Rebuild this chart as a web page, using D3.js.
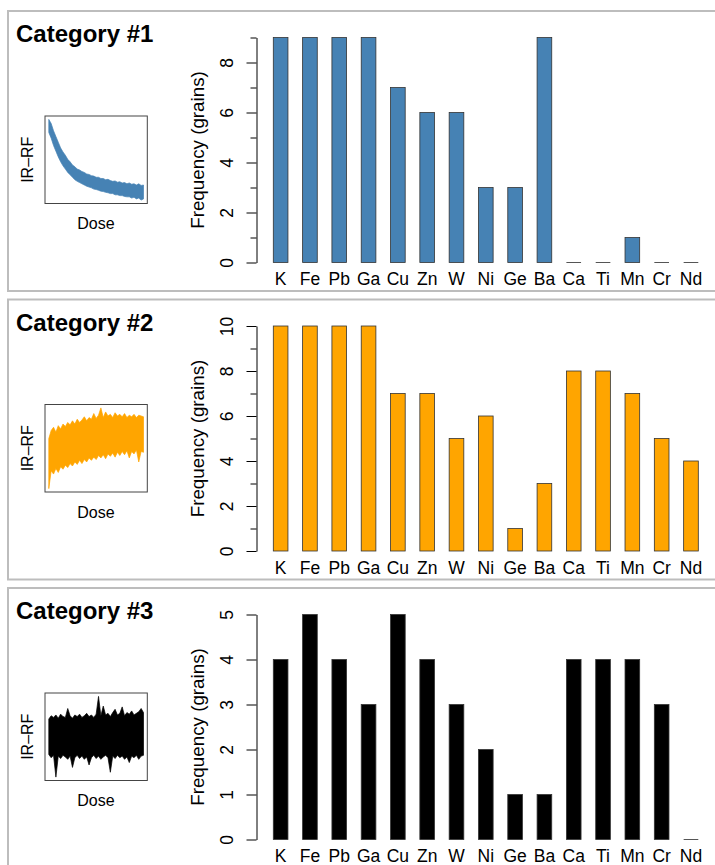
<!DOCTYPE html>
<html>
<head>
<meta charset="utf-8">
<script src="https://cdn.jsdelivr.net/npm/d3@7"></script>
<style>
  body { margin: 0; background: #fff; }
  text { font-family: "Liberation Sans", Arial, Helvetica, sans-serif; }
</style>
</head>
<body>
<div id="chart"></div>
<script>
// elements on the x axis, same order in every panel
var elements = ["K", "Fe", "Pb", "Ga", "Cu", "Zn", "W", "Ni", "Ge", "Ba", "Ca", "Ti", "Mn", "Cr", "Nd"];

// frequency (grains) per element for each category
var freq1 = [9, 9, 9, 9, 7, 6, 6, 3, 3, 9, 0, 0, 1, 0, 0];
var freq2 = [10, 10, 10, 10, 7, 7, 5, 6, 1, 3, 8, 8, 7, 5, 4];
var freq3 = [4, 5, 4, 3, 5, 4, 3, 2, 1, 1, 4, 4, 4, 3, 0];

var titles = ["Category #1", "Category #2", "Category #3"];
var colors = ["steelblue", "orange", "black"];

// IR-RF signal of the small insets, read off the picture as upper / lower
// edge of the noisy trace, 41 steps across the dose axis (arbitrary units)
var rf1Upper = [100, 95, 86, 79, 72, 65, 60, 56, 51, 48, 44, 42, 39, 38, 36, 35, 33, 32.5, 31, 30.5, 29, 29, 27.5, 27.5, 26, 26.5, 25, 24, 24.5, 23, 23.5, 22, 22.5, 21, 22, 20.5, 21, 19.5, 21, 19, 19.5];
var rf1Lower = [84, 77, 68, 61, 54, 48, 43, 39, 35, 32, 29, 26, 24, 22.5, 21, 19.5, 18, 17, 16, 14.5, 14, 13, 12, 11.5, 10.5, 10, 9, 9, 7.5, 7.5, 6.5, 6.5, 5.5, 5, 5, 3.5, 4.5, 2.5, 3.5, 1, 2.5];

var rf2Upper = [62, 72, 76, 70, 78, 74, 80, 77, 82, 79, 84, 80, 86, 82, 85, 89, 84, 88, 86, 93, 87, 91, 100, 88, 95, 90, 92, 88, 94, 90, 92, 89, 93, 88, 91, 89, 92, 88, 91, 90, 89];
var rf2Lower = [0, 22, 18, 25, 20, 27, 24, 29, 26, 31, 28, 33, 30, 35, 31, 36, 33, 38, 35, 39, 36, 41, 38, 42, 37, 43, 40, 44, 39, 45, 41, 46, 42, 47, 38, 46, 43, 48, 33, 46, 45];

var rf3Upper = [72, 76, 74, 77, 73, 78, 75, 74, 85, 76, 73, 77, 75, 78, 74, 76, 79, 75, 77, 74, 78, 100, 76, 88, 77, 79, 75, 80, 84, 77, 79, 87, 76, 80, 78, 82, 77, 79, 81, 85, 80];
var rf3Lower = [28, 24, 27, 0, 26, 23, 27, 25, 22, 26, 12, 24, 27, 23, 26, 22, 25, 15, 24, 27, 23, 26, 22, 25, 27, 24, 6, 26, 23, 27, 24, 26, 22, 25, 18, 26, 24, 27, 22, 26, 27];

var panels = [
  {title: titles[0], freq: freq1, color: colors[0], upper: rf1Upper, lower: rf1Lower},
  {title: titles[1], freq: freq2, color: colors[1], upper: rf2Upper, lower: rf2Lower},
  {title: titles[2], freq: freq3, color: colors[2], upper: rf3Upper, lower: rf3Lower}
];

var svg = d3.select("#chart").append("svg")
  .attr("width", 715)
  .attr("height", 865);

// element position on the bar charts (identical for all panels)
var xScale = d3.scaleBand()
  .domain(elements)
  .range([273.3, 698.3])
  .paddingInner(0.5)
  .paddingOuter(0);

// dose axis of the insets
var doseScale = d3.scaleLinear()
  .domain([0, 40])
  .range([45 + 3.8, 147.3 - 3.8]);

for (var p = 0; p < panels.length; p++) {
  var panel = panels[p];
  var panelTop = 11 + p * 288.5;

  // grey frame round each panel
  svg.append("rect")
    .attr("x", 8)
    .attr("y", panelTop)
    .attr("width", 720)
    .attr("height", 280)
    .style("fill", "none")
    .style("stroke", "#bdbdbd")
    .style("stroke-width", 2);

  svg.append("text")
    .attr("x", 16)
    .attr("y", panelTop + 31)
    .style("font-size", "24px")
    .style("font-weight", "bold")
    .text(panel.title);

  // ---- inset with the IR-RF curve ----
  var boxTop = panelTop + 105, boxBottom = panelTop + 192.5;
  var rfScale = d3.scaleLinear()
    .domain([d3.min(panel.lower), d3.max(panel.upper)])
    .range([boxBottom - 3.4, boxTop + 3.4]);

  var band = d3.area()
    .x(function(d, i) { return doseScale(i); })
    .y0(function(d, i) { return rfScale(panel.lower[i]); })
    .y1(function(d) { return rfScale(d); });

  svg.append("path")
    .datum(panel.upper)
    .attr("d", band)
    .style("fill", panel.color)
    .style("stroke", panel.color)
    .style("stroke-width", 0.7);

  svg.append("rect")
    .attr("x", 45)
    .attr("y", boxTop)
    .attr("width", 102.3)
    .attr("height", boxBottom - boxTop)
    .style("fill", "none")
    .style("stroke", "#444")
    .style("stroke-width", 1);

  svg.append("text")
    .attr("transform", "translate(32.5," + (boxTop + boxBottom) / 2 + ") rotate(-90)")
    .style("text-anchor", "middle")
    .style("font-size", "16px")
    .text("IR\u2013RF");

  svg.append("text")
    .attr("x", 96)
    .attr("y", panelTop + 218)
    .style("text-anchor", "middle")
    .style("font-size", "16px")
    .text("Dose");

  // ---- bar chart ----
  var maxVal = d3.max(panel.freq);
  var yScale = d3.scaleLinear()
    .domain([0, maxVal])
    .range([panelTop + 251.5, panelTop + 26.5]);

  // R drops every other label when they would overlap
  var step = (yScale(0) - yScale(1)) < 30 ? 2 : 1;

  var yAxis = d3.axisLeft(yScale)
    .tickValues(d3.range(0, maxVal + 1))
    .tickSize(10)
    .tickSizeOuter(0)
    .tickFormat(function(d) { return d % step == 0 ? d : ""; });

  var g = svg.append("g")
    .attr("transform", "translate(256.5,0)")
    .call(yAxis)
    .attr("font-size", 17.5)
    .attr("font-family", null);

  g.selectAll(".tick line")
    .attr("x2", function(d) { return d % step == 0 ? -10 : -6; });

  g.selectAll(".tick text")
    .attr("x", 0)
    .attr("y", -23.5)
    .attr("dy", null)
    .attr("transform", "rotate(-90)")
    .style("text-anchor", "middle");

  svg.append("text")
    .attr("transform", "translate(203.5," + (panelTop + 139) + ") rotate(-90)")
    .style("text-anchor", "middle")
    .style("font-size", "18.8px")
    .text("Frequency (grains)");

  for (var i = 0; i < elements.length; i++) {
    var v = panel.freq[i];
    var x0 = xScale(elements[i]);
    if (v > 0) {
      svg.append("rect")
        .attr("x", x0)
        .attr("y", yScale(v))
        .attr("width", xScale.bandwidth())
        .attr("height", yScale(0) - yScale(v))
        .style("fill", panel.color)
        .style("stroke", "#333")
        .style("stroke-width", 0.8);
    } else {
      // zero height bar: only its border shows
      svg.append("line")
        .attr("x1", x0)
        .attr("x2", x0 + xScale.bandwidth())
        .attr("y1", yScale(0))
        .attr("y2", yScale(0))
        .style("stroke", "#555")
        .style("stroke-width", 1);
    }

    svg.append("text")
      .attr("x", x0 + xScale.bandwidth() / 2)
      .attr("y", panelTop + 274)
      .style("text-anchor", "middle")
      .style("font-size", "17.5px")
      .text(elements[i]);
  }
}
</script>
</body>
</html>
